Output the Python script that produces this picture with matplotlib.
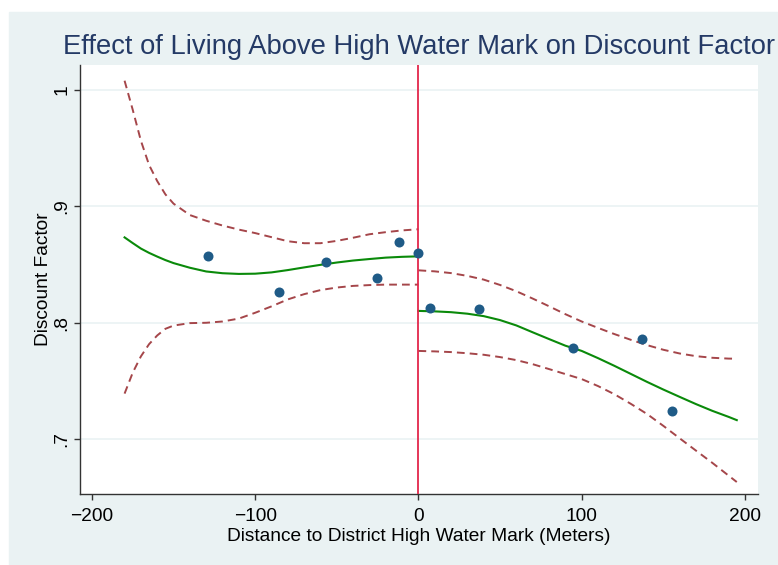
import matplotlib
matplotlib.use("Agg")
import matplotlib.pyplot as plt
from matplotlib.patches import Rectangle
from matplotlib.ticker import FixedLocator, FixedFormatter

plt.rcParams["font.family"] = ["Liberation Sans", "DejaVu Sans"]

# binned means
bin_x = [-129, -85.7, -56.7, -25.1, -11.8, 0, 7.2, 37.0, 94.9, 137.0, 155.2]
bin_y = [0.857, 0.826, 0.852, 0.838, 0.869, 0.860, 0.813, 0.812, 0.7785, 0.786, 0.724]

# fit below the high water mark
left_x = [-180, -175, -170, -165, -160, -155, -150, -140, -130, -120, -110,
          -100, -90, -80, -70, -60, -50, -40, -30, -20, -10, 0]
left_fit = [0.8733, 0.8684, 0.8637, 0.8600, 0.8568, 0.8538, 0.8512, 0.8472,
            0.8440, 0.8425, 0.8419, 0.8421, 0.8432, 0.8452, 0.8475, 0.8497,
            0.8517, 0.8534, 0.8547, 0.8559, 0.8566, 0.8570]
left_hi = [1.008, 0.983, 0.9564, 0.9356, 0.9217, 0.9103, 0.9023, 0.8925,
           0.8876, 0.8835, 0.8800, 0.8770, 0.8735, 0.8700, 0.8683, 0.8683,
           0.8703, 0.8730, 0.8760, 0.8778, 0.8793, 0.8803]
left_lo = [0.739, 0.757, 0.771, 0.7815, 0.789, 0.7947, 0.7975, 0.7996, 0.7999,
           0.8010, 0.8035, 0.8085, 0.8140, 0.8200, 0.8245, 0.8280, 0.8302,
           0.8316, 0.8323, 0.8327, 0.8327, 0.8327]

# fit above the high water mark
right_x = [0, 10, 20, 30, 40, 50, 60, 70, 80, 90, 100, 110, 120, 130, 140,
           150, 160, 170, 180, 190, 195]
right_fit = [0.8101, 0.8097, 0.8090, 0.8077, 0.8056, 0.8022, 0.7976, 0.7917,
             0.7859, 0.7802, 0.7757, 0.7695, 0.7629, 0.7560, 0.7491, 0.7425,
             0.7362, 0.7300, 0.7242, 0.7190, 0.7162]
right_hi = [0.8450, 0.8441, 0.8426, 0.8402, 0.8370, 0.8324, 0.8270, 0.8207,
            0.8141, 0.8073, 0.8010, 0.7955, 0.7902, 0.7853, 0.7807, 0.7767,
            0.7735, 0.7712, 0.7698, 0.7691, 0.7690]
right_lo = [0.7757, 0.7753, 0.7747, 0.7737, 0.7724, 0.7704, 0.7678, 0.7643,
            0.7601, 0.7558, 0.7515, 0.7455, 0.7385, 0.7303, 0.7215, 0.7113,
            0.7006, 0.6900, 0.6795, 0.6685, 0.6630]

xticks = [-200, -100, 0, 100, 200]
yticks = [0.7, 0.8, 0.9, 1.0]
ytick_labels = [".7", ".8", ".9", "1"]

bg = "#eaf2f3"
navy = "#1f5b87"
green = "#0a8a0a"
ci_col = "#a5464a"
cutoff_col = "#e3264b"

fig = plt.figure(figsize=(7.78, 5.65), dpi=100)
fig.patches.append(Rectangle((9 / 778, 0), 1, 1 - 12 / 565,
                             transform=fig.transFigure, color=bg, zorder=-10))
ax = fig.add_axes([80 / 778, 71 / 565, 678 / 778, 429 / 565])
ax.set_facecolor("white")

for y in yticks:
    ax.axhline(y, color=bg, lw=1.2, zorder=0)

dash = (0, (4, 2.6))
for xs, fit, hi, lo in [(left_x, left_fit, left_hi, left_lo),
                        (right_x, right_fit, right_hi, right_lo)]:
    ax.plot(xs, hi, color=ci_col, lw=1.4, linestyle=dash, zorder=2)
    ax.plot(xs, lo, color=ci_col, lw=1.4, linestyle=dash, zorder=2)
    ax.plot(xs, fit, color=green, lw=1.5, zorder=3)

ax.axvline(0, color=cutoff_col, lw=1.3, zorder=4)
ax.plot(bin_x, bin_y, "o", color=navy, markersize=7.2, markeredgewidth=0,
        zorder=5)

ax.set_xlim(-207.3, 208)
ax.set_ylim(0.6527, 1.0215)
ax.xaxis.set_major_locator(FixedLocator(xticks))
ax.yaxis.set_major_locator(FixedLocator(yticks))
ax.yaxis.set_major_formatter(FixedFormatter(ytick_labels))

for side in ["top", "right"]:
    ax.spines[side].set_visible(False)
for side in ["left", "bottom"]:
    ax.spines[side].set_color("#333333")
    ax.spines[side].set_linewidth(1.0)

ax.tick_params(axis="both", colors="#333333", labelcolor="black",
               labelsize=13.8, length=4, width=1)
ax.tick_params(axis="x", pad=6)
ax.tick_params(axis="y", pad=3)
for lab in ax.get_yticklabels():
    lab.set_rotation(90)
    lab.set_va("center")

ax.set_xlabel("Distance to District High Water Mark (Meters)", fontsize=13.8,
              labelpad=2)
ax.set_ylabel("Discount Factor", fontsize=13.8, labelpad=1)
ax.set_title("Effect of Living Above High Water Mark on Discount Factor",
             fontsize=19.7, color="#243a66", pad=8)

fig.savefig("out.png", dpi=100)
